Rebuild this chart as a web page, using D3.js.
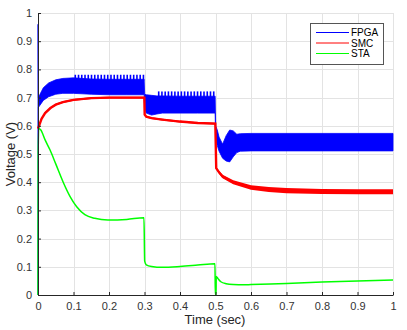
<!DOCTYPE html>
<html><head><meta charset="utf-8">
<script src="https://cdn.jsdelivr.net/npm/d3@7"></script>
<style>
html,body{margin:0;padding:0;background:#fff;}
svg{display:block;font-family:"Liberation Sans",Arial,Helvetica,sans-serif;}
</style></head>
<body><svg id="chart" width="407" height="330"></svg>
<script>
// ---- data ----
const timeTicks = [0,0.1,0.2,0.3,0.4,0.5,0.6,0.7,0.8,0.9,1];
const voltTicks = [0,0.1,0.2,0.3,0.4,0.5,0.6,0.7,0.8,0.9,1];
const seriesNames = ["FPGA","SMC","STA"];
const seriesColors = ["#0000ff","#ff0000","#00ff00"];

// FPGA: envelope of the fast-switching band
const fpgaTime  = [0, 0.001, 0.005, 0.015, 0.03, 0.05, 0.07, 0.1, 0.15, 0.2, 0.25, 0.299, 0.3005, 0.305, 0.32, 0.335, 0.35, 0.4, 0.45, 0.499, 0.5005, 0.505, 0.51, 0.52, 0.53, 0.54, 0.55, 0.56, 0.57, 0.6, 0.8, 1.0];
const fpgaUpper = [0.96, 0.70, 0.71, 0.735, 0.752, 0.763, 0.768, 0.77, 0.766, 0.765, 0.765, 0.765, 0.712, 0.71, 0.708, 0.706, 0.706, 0.705, 0.705, 0.705, 0.60, 0.585, 0.56, 0.535, 0.565, 0.585, 0.582, 0.57, 0.572, 0.573, 0.573, 0.573];
const fpgaLower = [0, 0.665, 0.672, 0.69, 0.703, 0.712, 0.715, 0.715, 0.712, 0.71, 0.71, 0.71, 0.66, 0.645, 0.638, 0.642, 0.645, 0.645, 0.645, 0.645, 0.55, 0.53, 0.51, 0.485, 0.475, 0.472, 0.49, 0.505, 0.51, 0.511, 0.511, 0.511];
// FPGA periodic overshoot spikes (start, end, count, base, top)
const fpgaSpikeStart = [0.105, 0.34];
const fpgaSpikeEnd   = [0.297, 0.495];
const fpgaSpikeCount = [22, 18];
const fpgaSpikeBase  = [0.76, 0.70];
const fpgaSpikeTop   = [0.781, 0.722];

// SMC
const smcTime   = [0, 0.01, 0.02, 0.035, 0.05, 0.07, 0.1, 0.15, 0.2, 0.25, 0.2995, 0.3005, 0.305, 0.32, 0.35, 0.4, 0.45, 0.4995, 0.502, 0.51, 0.52, 0.55, 0.6, 0.65, 0.7, 0.8, 0.9, 1.0];
const smcValue  = [0.59, 0.625, 0.645, 0.663, 0.675, 0.684, 0.692, 0.698, 0.70, 0.70, 0.70, 0.64, 0.632, 0.627, 0.622, 0.615, 0.61, 0.608, 0.45, 0.435, 0.42, 0.40, 0.381, 0.374, 0.37, 0.367, 0.366, 0.366];
const smcSpread = [0.003, 0.003, 0.003, 0.003, 0.003, 0.003, 0.003, 0.003, 0.003, 0.003, 0.003, 0.003, 0.003, 0.003, 0.003, 0.003, 0.003, 0.003, 0.004, 0.005, 0.006, 0.007, 0.008, 0.009, 0.009, 0.009, 0.009, 0.009];

// STA
const staTime  = [0, 0.0005, 0.002, 0.008, 0.02, 0.034, 0.05, 0.071, 0.09, 0.109, 0.132, 0.16, 0.197, 0.25, 0.2985, 0.3005, 0.305, 0.32, 0.35, 0.4, 0.45, 0.4985, 0.4995, 0.5015, 0.502, 0.507, 0.515, 0.53, 0.55, 0.58, 0.6, 0.7, 0.8, 0.9, 1.0];
const staValue = [0, 0.5, 0.59, 0.585, 0.55, 0.514, 0.465, 0.40, 0.35, 0.313, 0.285, 0.272, 0.266, 0.268, 0.274, 0.12, 0.107, 0.101, 0.098, 0.101, 0.106, 0.111, 0.0, 0.0, 0.066, 0.058, 0.047, 0.04, 0.037, 0.036, 0.037, 0.041, 0.046, 0.05, 0.053];

// ---- chart ----
const svg = d3.select("#chart");
const x = d3.scaleLinear().domain([0,1]).range([38,393]);
const y = d3.scaleLinear().domain([0,1]).range([295,13]);
const axisColor = "#262626";

// grid
const grid = svg.append("g");
grid.selectAll("line.gx").data(timeTicks).join("line")
  .attr("x1", d=>Math.round(x(d))+0.5).attr("x2", d=>Math.round(x(d))+0.5)
  .attr("y1", y(0)).attr("y2", y(1))
  .attr("stroke","#e3e3e3").attr("stroke-width",1);
grid.selectAll("line.gy").data(voltTicks).join("line")
  .attr("y1", d=>Math.round(y(d))+0.5).attr("y2", d=>Math.round(y(d))+0.5)
  .attr("x1", x(0)).attr("x2", x(1))
  .attr("stroke","#e3e3e3").attr("stroke-width",1);

// FPGA band
const fpgaData = fpgaTime.map((t,i)=>({t, hi:fpgaUpper[i], lo:fpgaLower[i]}));
svg.append("path").datum(fpgaData)
  .attr("d", d3.area().x(d=>x(d.t)).y0(d=>y(d.lo)).y1(d=>y(d.hi)))
  .attr("fill", seriesColors[0]).attr("stroke", seriesColors[0]).attr("stroke-width",0.8);
// spikes
const spikes = [];
fpgaSpikeStart.forEach((s,i)=>{
  const n = fpgaSpikeCount[i];
  d3.range(n).forEach(k=>{
    spikes.push({t: s + (fpgaSpikeEnd[i]-s)*k/(n-1), b: fpgaSpikeBase[i], top: fpgaSpikeTop[i]});
  });
});
svg.append("g").selectAll("line").data(spikes).join("line")
  .attr("x1", d=>x(d.t)).attr("x2", d=>x(d.t))
  .attr("y1", d=>y(d.b)).attr("y2", d=>y(d.top))
  .attr("stroke", seriesColors[0]).attr("stroke-width",1.6);

// SMC
const smcData = smcTime.map((t,i)=>({t, v:smcValue[i], s:smcSpread[i]}));
svg.append("path").datum(smcData)
  .attr("d", d3.area().x(d=>x(d.t)).y0(d=>y(d.v-d.s)).y1(d=>y(d.v+d.s)))
  .attr("fill", seriesColors[1]);
svg.append("path").datum(smcData)
  .attr("d", d3.line().x(d=>x(d.t)).y(d=>y(d.v)))
  .attr("fill","none").attr("stroke", seriesColors[1]).attr("stroke-width",2.4);

// STA
const staData = staTime.map((t,i)=>({t, v:staValue[i]}));
svg.append("path").datum(staData)
  .attr("d", d3.line().x(d=>x(d.t)).y(d=>y(d.v)).curve(d3.curveMonotoneX))
  .attr("fill","none").attr("stroke", seriesColors[2]).attr("stroke-width",1.5);

// axes
const xAxis = svg.append("g").attr("transform",`translate(0,${y(0)})`)
  .call(d3.axisBottom(x).tickValues(timeTicks).tickFormat(d3.format("~g")).tickSizeInner(-3).tickSizeOuter(0).tickPadding(7));
const yAxis = svg.append("g").attr("transform",`translate(${x(0)},0)`)
  .call(d3.axisLeft(y).tickValues(voltTicks).tickFormat(d3.format("~g")).tickSizeInner(-3).tickSizeOuter(0).tickPadding(6));
[xAxis,yAxis].forEach(a=>{
  a.select(".domain").attr("stroke",axisColor).attr("stroke-width",1);
  a.selectAll(".tick line").attr("stroke",axisColor);
  a.selectAll(".tick text").attr("fill","#333").style("font-size","11px").style("font-family","'Liberation Sans',Arial,sans-serif");
});

svg.append("text").attr("x", 215).attr("y", 324).attr("text-anchor","middle")
  .attr("fill","#262626").style("font-size","13px").text("Time (sec)");
svg.append("text").attr("transform","translate(15,154) rotate(-90)").attr("text-anchor","middle")
  .attr("fill","#262626").style("font-size","13px").text("Voltage (V)");

// legend
const lg = svg.append("g");
lg.append("rect").attr("x",310.5).attr("y",23.5).attr("width",73).attr("height",41)
  .attr("fill","#fff").attr("stroke","#555").attr("stroke-width",1);
seriesNames.forEach((name,i)=>{
  const yy = 32.5 + i*10.5;
  lg.append("line").attr("x1",316).attr("x2",349).attr("y1",yy).attr("y2",yy)
    .attr("stroke",seriesColors[i]).attr("stroke-width",1);
  lg.append("text").attr("x",351).attr("y",yy+3.5).attr("fill","#000")
    .style("font-size","10px").text(name);
});
</script></body></html>
